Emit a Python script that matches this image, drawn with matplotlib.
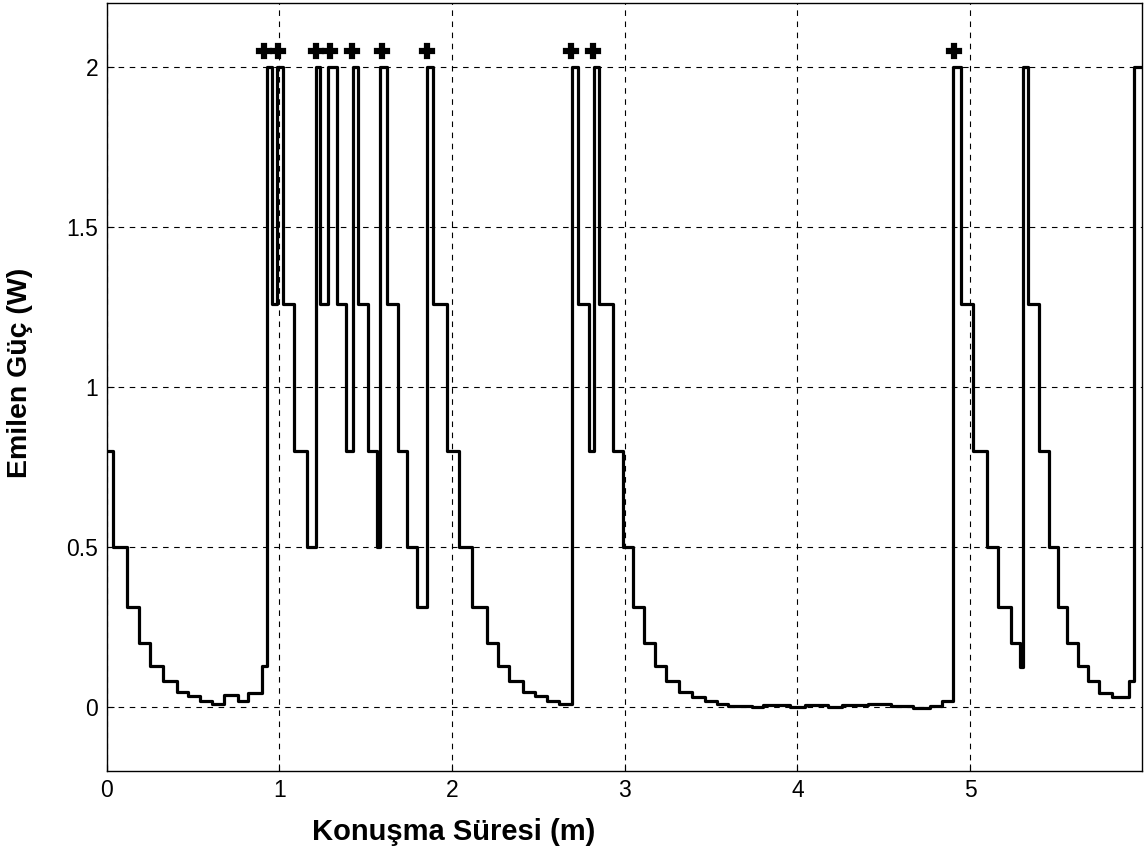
import numpy as np
import matplotlib
matplotlib.use("Agg")
import matplotlib.pyplot as plt

# step edges (minutes) and power level (W) held from each edge to the next
t_edges = [0.000, 0.039, 0.116, 0.188, 0.251, 0.325, 0.406, 0.473, 0.539, 0.608,
           0.680, 0.763, 0.821, 0.902, 0.927, 0.956, 0.985, 1.020, 1.085, 1.159,
           1.212, 1.236, 1.284, 1.332, 1.384, 1.429, 1.457, 1.512, 1.564, 1.583,
           1.625, 1.686, 1.738, 1.796, 1.853, 1.892, 1.969, 2.042, 2.114, 2.201,
           2.265, 2.332, 2.409, 2.481, 2.548, 2.621, 2.693, 2.731, 2.795, 2.820,
           2.853, 2.930, 2.992, 3.050, 3.112, 3.175, 3.239, 3.314, 3.388, 3.465,
           3.533, 3.600, 3.735, 3.803, 3.957, 4.044, 4.179, 4.256, 4.411, 4.540,
           4.671, 4.768, 4.836, 4.903, 4.947, 5.019, 5.096, 5.160, 5.237, 5.289,
           5.305, 5.337, 5.401, 5.457, 5.507, 5.563, 5.623, 5.681, 5.748, 5.823,
           5.922, 5.949]
power = [0.80, 0.50, 0.31, 0.20, 0.128, 0.080, 0.045, 0.034, 0.018, 0.007,
         0.035, 0.018, 0.043, 0.128, 2.00, 1.26, 2.00, 1.26, 0.80, 0.50,
         2.00, 1.26, 2.00, 1.26, 0.80, 2.00, 1.26, 0.80, 0.50, 2.00,
         1.26, 0.80, 0.50, 0.31, 2.00, 1.26, 0.80, 0.50, 0.31, 0.20,
         0.128, 0.080, 0.045, 0.034, 0.018, 0.008, 2.00, 1.26, 0.80, 2.00,
         1.26, 0.80, 0.50, 0.31, 0.20, 0.128, 0.080, 0.044, 0.031, 0.016,
         0.008, 0.003, 0.000, 0.005, -0.002, 0.005, 0.000, 0.004, 0.008, 0.003,
         -0.003, 0.003, 0.018, 2.00, 1.26, 0.80, 0.50, 0.31, 0.20, 0.124,
         2.00, 1.26, 0.80, 0.50, 0.31, 0.20, 0.128, 0.080, 0.043, 0.030,
         0.080, 2.00]
t_end = 5.995

# markers above the peaks
star_t = [0.911, 0.994, 1.213, 1.294, 1.423, 1.593, 1.857, 2.689, 2.818, 4.909]
star_y = [2.05] * len(star_t)

plt.rcParams['font.family'] = ['Liberation Sans', 'DejaVu Sans']

fig = plt.figure(figsize=(11.44, 8.61), dpi=100)
ax = fig.add_axes([0.0932, 0.1051, 0.9051, 0.8914])

xs = t_edges + [t_end]
ys = power + [power[-1]]
ax.step(xs, ys, where='post', color='black', lw=2.3)
ax.plot(star_t, star_y, linestyle='none', marker='P', color='black',
        markersize=10.5, markeredgewidth=1.6)

ax.set_xlim(0, t_end)
ax.set_ylim(-0.2, 2.2)
ax.set_xticks([0, 1, 2, 3, 4, 5])
ax.set_xticklabels(['0', '1', '2', '3', '4', '5'])
ax.set_yticks([0, 0.5, 1, 1.5, 2])
ax.set_yticklabels(['0', '0.5', '1', '1.5', '2'])
ax.tick_params(direction='in', length=5, labelsize=16.5, pad=6)
ax.grid(True, color='black', linestyle=(0, (5, 5)), lw=0.8)
for s in ax.spines.values():
    s.set_linewidth(1.0)

# the labels sit where they are in the original figure (x label off-centre)
ax.set_xlabel('Konuşma Süresi (m)', fontsize=21, fontweight='bold')
ax.xaxis.set_label_coords(0.3355, -0.062)
ax.set_ylabel('Emilen Güç (W)', fontsize=20.5, fontweight='bold')
ax.yaxis.set_label_coords(-0.071, 0.518)

fig.savefig('out.png', dpi=100)
